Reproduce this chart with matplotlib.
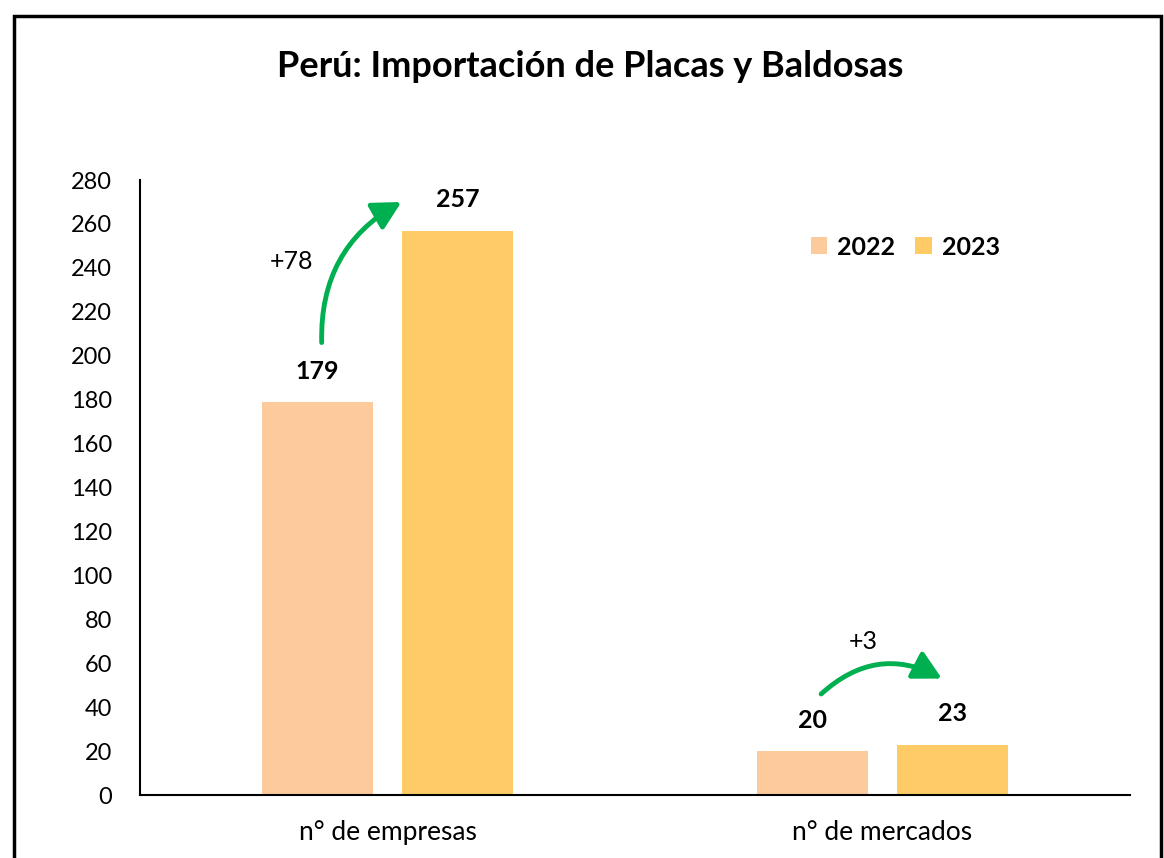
import matplotlib
matplotlib.use("Agg")
import matplotlib.pyplot as plt
from matplotlib.patches import Rectangle, FancyArrowPatch
import numpy as np

plt.rcParams['font.family'] = ['Lato', 'DejaVu Sans']

categories = ["n° de empresas", "n° de mercados"]
years = ["2022", "2023"]
v2022 = [179, 20]
v2023 = [257, 23]
colors = ["#FDCB9B", "#FECB66"]
green = "#00B050"

fig = plt.figure(figsize=(11.64, 8.58), dpi=100)
ax = fig.add_axes([0.1203, 0.0734, 0.8505, 0.7168])

x = np.arange(len(categories))
w = 0.225
off = 0.142
b1 = ax.bar(x - off, v2022, w, color=colors[0], label=years[0])
b2 = ax.bar(x + off, v2023, w, color=colors[1], label=years[1])

for bars in (b1, b2):
    for r in bars:
        ax.annotate(f"{int(r.get_height())}", (r.get_x() + r.get_width() / 2, r.get_height()),
                    xytext=(0, 22), textcoords="offset points", ha="center", va="center",
                    fontsize=18, fontweight="bold")

ax.set_xlim(-0.5, 1.5)
ax.set_ylim(0, 280)
ax.set_yticks(np.arange(0, 281, 20))
ax.set_xticks(x)
ax.set_xticklabels(categories, fontsize=19)
ax.tick_params(axis="y", length=0, pad=20, labelsize=17)
ax.tick_params(axis="x", length=0, pad=18)
for s in ("top", "right"):
    ax.spines[s].set_visible(False)
for s in ("left", "bottom"):
    ax.spines[s].set_linewidth(1.5)

# arrows showing the change (offsets relative to each category)
arrows = [
    ((-0.133, v2022[0] + 27), (0.028, v2023[0] + 13), -0.3, (-0.194, 243)),
    ((-0.124, v2022[1] + 26), (0.12, v2023[1] + 30), -0.35, (-0.038, 70)),
]
for i, (p0, p1, rad, tpos) in enumerate(arrows):
    arr = FancyArrowPatch((x[i] + p0[0], p0[1]), (x[i] + p1[0], p1[1]),
                          connectionstyle=f"arc3,rad={rad}",
                          arrowstyle="-|>,head_length=17,head_width=9",
                          color=green, lw=3.5, mutation_scale=1, shrinkA=0, shrinkB=0)
    ax.add_patch(arr)
    ax.text(x[i] + tpos[0], tpos[1], f"+{v2023[i] - v2022[i]}", ha="center", va="center",
            fontsize=18)

leg = ax.legend(loc="center", bbox_to_anchor=(0.773, 0.891), ncol=2, frameon=False,
                handlelength=0.65, handleheight=0.65, columnspacing=0.8, handletextpad=0.4,
                prop={"size": 18, "weight": "bold"})

fig.text(0.507, 0.922, "Perú: Importación de Placas y Baldosas", ha="center", va="center",
         fontsize=26, fontweight="bold")

fig.patches.append(Rectangle((14 / 1164, -0.05), 1147 / 1164, 1.05 - 16 / 858,
                             transform=fig.transFigure, fill=False, lw=2.5,
                             edgecolor="black", clip_on=False))

fig.savefig("out.png", dpi=100)
